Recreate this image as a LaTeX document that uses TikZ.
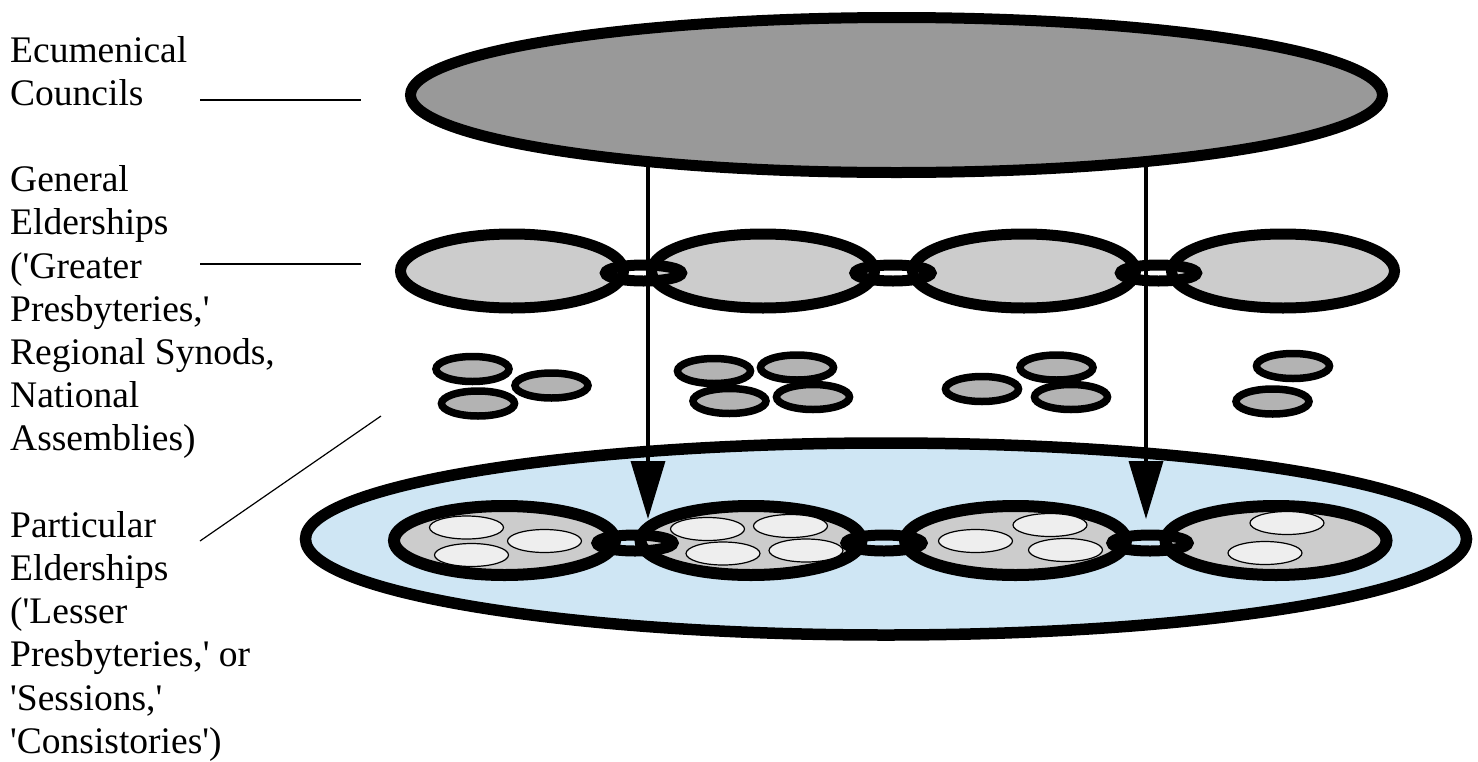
\documentclass[tikz,border=0pt]{standalone}
\usepackage{fontspec}
\setmainfont{Liberation Serif}
\usetikzlibrary{arrows.meta}
\newcommand\qsg{\textquotesingle}
\definecolor{topgray}{HTML}{999999}
\definecolor{midgray}{HTML}{CCCCCC}
\definecolor{smallgray}{HTML}{B3B3B3}
\definecolor{paleblue}{HTML}{CFE6F4}
\definecolor{whiteish}{HTML}{EEEEEE}
\tikzset{
  lbl/.style={anchor=base west, inner sep=0pt, font=\fontsize{37.5}{43.2}\selectfont},
  leader/.style={draw=black, line width=1.2pt},
  heavy/.style={draw=black, line width=11pt},
  small/.style={draw=black, line width=7.5pt, fill=smallgray},
  cell/.style={draw=black, line width=1.2pt, fill=whiteish},
  linkring/.style={draw=black, line width=11pt},
  flow/.style={draw=black, line width=3.5pt, -{Triangle[width=34pt,length=58pt]}}
}
\begin{document}
\begin{tikzpicture}[x=1pt,y=-1pt]
\useasboundingbox (0,0) rectangle (1478,761);
% labels
\node[lbl] (t1) at (10,62) {Ecumenical};
\node[lbl] (t2) at (10,105.2) {Councils};
\node[lbl] (t3) at (10,191.6) {General};
\node[lbl] (t4) at (10,234.8) {Elderships};
\node[lbl] (t5) at (10,278) {(\qsg Greater};
\node[lbl] (t6) at (10,321.2) {Presbyteries,\qsg};
\node[lbl] (t7) at (10,364.4) {Regional Synods,};
\node[lbl] (t8) at (10,407.6) {National};
\node[lbl] (t9) at (10,450.8) {Assemblies)};
\node[lbl] (t10) at (10,537.2) {Particular};
\node[lbl] (t11) at (10,580.4) {Elderships};
\node[lbl] (t12) at (10,623.6) {(\qsg Lesser};
\node[lbl] (t13) at (10,666.8) {Presbyteries,\qsg{} or};
\node[lbl] (t14) at (10,710) {\qsg Sessions,\qsg};
\node[lbl] (t15) at (10,753.2) {\qsg Consistories\qsg)};
% leader lines
\coordinate (a1) at (200,100); \coordinate (b1) at (361,100);
\coordinate (a2) at (200,264); \coordinate (b2) at (361,264);
\coordinate (a3) at (200,541); \coordinate (b3) at (381,416);
\draw[leader] (a1) -- (b1);
\draw[leader] (a2) -- (b2);
\draw[leader] (a3) -- (b3);
% top ellipse
\path[heavy, fill=topgray] (896.5,95) ellipse [x radius=486pt, y radius=77.5pt];
% general elderships row
\foreach \cx in {512,763,1024,1283}
  \path[heavy, fill=midgray] (\cx,271) ellipse [x radius=111.5pt, y radius=37pt];
\foreach \cx in {643.5,893,1158.5}
  \path[linkring] (\cx,273) ellipse [x radius=38pt, y radius=8pt];
% small synods
\foreach \cx/\cy in {472.5/369,551.5/385.5,478/403.5,714/371,797/367.5,729.5/401,813/397,982/389,1056.5/367.5,1071/397,1293/366,1272.5/401.5}
  \path[small] (\cx,\cy) ellipse [x radius=36.5pt, y radius=12.5pt];
% particular elderships base
\path[draw=black, line width=11.5pt, fill=paleblue] (886,539) ellipse [x radius=580.5pt, y radius=96pt];
\foreach \cx in {504.5,751,1015.5,1276}
  \path[draw=black, line width=12pt, fill=midgray] (\cx,540.5) ellipse [x radius=110.5pt, y radius=34.5pt];
\foreach \cx/\cy in {466.5/527.5,544.5/541,471.5/555,707.5/529,790.5/526,723/553.5,806/550.5,975.5/541,1050/525,1065.5/550,1287/523,1265/553}
  \path[cell] (\cx,\cy) ellipse [x radius=37pt, y radius=11.5pt];
\foreach \cx in {635,884,1150}
  \path[linkring] (\cx,543) ellipse [x radius=38pt, y radius=8pt];
% arrows
\coordinate (s1) at (648,166); \coordinate (e1) at (648,519);
\coordinate (s2) at (1146,166); \coordinate (e2) at (1146,519);
\draw[flow] (s1) -- (e1);
\draw[flow] (s2) -- (e2);
\end{tikzpicture}
\end{document}
